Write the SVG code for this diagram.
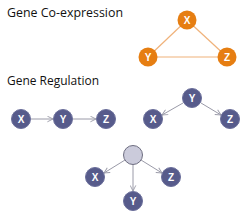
<svg xmlns="http://www.w3.org/2000/svg" width="250" height="220" viewBox="0 0 250 220">
<defs>
<style>
.title{font-family:"Open Sans","Liberation Sans",sans-serif;font-size:12.5px;fill:#111}
.lbl{font-family:"Liberation Sans",sans-serif;font-size:10px;font-weight:bold;fill:#fff;text-anchor:middle}
.on{fill:#e67e12}
.pn{fill:#575b8b;stroke:#6a6e9a;stroke-width:1}
.gn{fill:#cbcbdb;stroke:#6d6d80;stroke-width:1}
.oe{stroke:#f0b27a;stroke-width:1.2;fill:none}
.ge{stroke:#9a9aa8;stroke-width:1;fill:none;marker-end:url(#arr)}
</style>
<marker id="arr" viewBox="0 0 10 10" refX="9" refY="5" markerWidth="7" markerHeight="7" orient="auto" markerUnits="userSpaceOnUse">
<path d="M1,1 L9,5 L1,9" fill="none" stroke="#9a9aa8" stroke-width="1.3"/>
</marker>
</defs>
<rect width="250" height="220" fill="#fff"/>
<text class="title" x="7" y="17" textLength="116" lengthAdjust="spacingAndGlyphs">Gene Co-expression</text>
<text class="title" x="7" y="85" textLength="92" lengthAdjust="spacingAndGlyphs">Gene Regulation</text>
<g id="connectors">
<line class="oe" x1="187" y1="20" x2="148" y2="57"/>
<line class="oe" x1="187" y1="20" x2="227" y2="57"/>
<line class="oe" x1="148" y1="57" x2="227" y2="57"/>
<line class="ge" x1="31" y1="119" x2="53" y2="119"/>
<line class="ge" x1="73" y1="119" x2="96" y2="119"/>
<line class="ge" x1="183" y1="103" x2="162" y2="115"/>
<line class="ge" x1="201" y1="103" x2="221" y2="115"/>
<line class="ge" x1="125" y1="160" x2="104" y2="173"/>
<line class="ge" x1="133" y1="165" x2="133" y2="191"/>
<line class="ge" x1="141" y1="160" x2="162" y2="173"/>
</g>
<g id="co-x"><circle class="on" cx="187" cy="20" r="9.5"/><text class="lbl" x="187" y="24">X</text></g>
<g id="co-y"><circle class="on" cx="148" cy="57" r="9.5"/><text class="lbl" x="148" y="61">Y</text></g>
<g id="co-z"><circle class="on" cx="227" cy="57" r="9.5"/><text class="lbl" x="227" y="61">Z</text></g>
<g id="ch-x"><circle class="pn" cx="21" cy="119" r="9.5"/><text class="lbl" x="21" y="123">X</text></g>
<g id="ch-y"><circle class="pn" cx="63" cy="119" r="9.5"/><text class="lbl" x="63" y="123">Y</text></g>
<g id="ch-z"><circle class="pn" cx="106" cy="119" r="9.5"/><text class="lbl" x="106" y="123">Z</text></g>
<g id="fo-y"><circle class="pn" cx="192" cy="98" r="9.5"/><text class="lbl" x="192" y="102">Y</text></g>
<g id="fo-x"><circle class="pn" cx="153" cy="119" r="9.5"/><text class="lbl" x="153" y="123">X</text></g>
<g id="fo-z"><circle class="pn" cx="230" cy="119" r="9.5"/><text class="lbl" x="230" y="123">Z</text></g>
<g id="hidden"><circle class="gn" cx="133" cy="155" r="9.5"/></g>
<g id="h-x"><circle class="pn" cx="95" cy="177" r="9.5"/><text class="lbl" x="95" y="181">X</text></g>
<g id="h-y"><circle class="pn" cx="133" cy="201" r="9.5"/><text class="lbl" x="133" y="205">Y</text></g>
<g id="h-z"><circle class="pn" cx="171" cy="177" r="9.5"/><text class="lbl" x="171" y="181">Z</text></g>
</svg>
